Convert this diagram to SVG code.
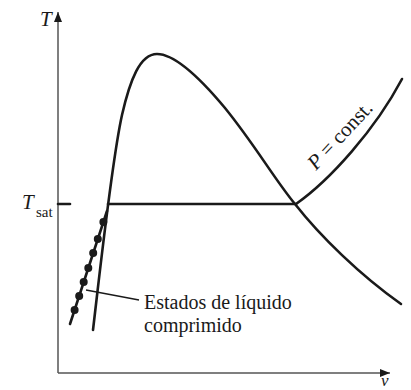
<svg xmlns="http://www.w3.org/2000/svg" width="411" height="390" viewBox="0 0 411 390">
<style>
.axis{stroke:#555;stroke-width:1.5;fill:none}
.curve{stroke:#1a1a1a;stroke-width:2.6;fill:none;stroke-linecap:round}
.thin{stroke:#1a1a1a;stroke-width:1.4;fill:none}
.lbl{font-family:"Liberation Serif","Times New Roman",serif;fill:#1a1a1a}
.dot{fill:#1a1a1a}
</style>
<defs>
<marker id="arr" viewBox="0 0 10 8" refX="10" refY="4" markerWidth="10" markerHeight="8" markerUnits="userSpaceOnUse" orient="auto">
<path d="M0,0 L10,4 L0,8 Z" fill="#1a1a1a"/>
</marker>
</defs>
<rect width="411" height="390" fill="#fff"/>
<g id="axes">
<line class="axis" x1="58" y1="373" x2="58" y2="12" marker-end="url(#arr)"/>
<line class="axis" x1="58" y1="373" x2="390" y2="373" marker-end="url(#arr)"/>
<line class="curve" x1="58" y1="204" x2="70" y2="204" stroke-linecap="butt"/>
<text class="lbl" x="40" y="26" font-size="21" font-style="italic">T</text>
<text class="lbl" x="22" y="209" font-size="21" font-style="italic">T</text>
<text class="lbl" x="36" y="217" font-size="15">sat</text>
<text class="lbl" x="381" y="386" font-size="17" font-style="italic">v</text>
</g>
<g id="dome">
<path class="curve" d="M93,330 C101,262 112,160 122,115 C130,80 140,54 157,54 C175,54 200,78 225,108 C255,145 275,180 295,204 C320,236 360,275 401,304"/>
</g>
<g id="isobar">
<path class="curve" d="M108,204 L296,204"/>
<path class="curve" d="M296,204 C330,180 375,130 402,79"/>
<text class="lbl" font-size="21" transform="translate(316,171) rotate(-47)"><tspan font-style="italic">P</tspan> = const.</text>
</g>
<g id="compressed-liquid">
<line class="curve" x1="70" y1="324" x2="107" y2="211"/>
<circle class="dot" cx="103.4" cy="222" r="4"/>
<circle class="dot" cx="97.8" cy="239" r="4"/>
<circle class="dot" cx="93.2" cy="253" r="4"/>
<circle class="dot" cx="88.3" cy="268" r="4"/>
<circle class="dot" cx="83.7" cy="282" r="4"/>
<circle class="dot" cx="79.2" cy="296" r="4"/>
<circle class="dot" cx="74.6" cy="310" r="4"/>
</g>
<g id="connectors">
<line class="thin" x1="86" y1="290" x2="139" y2="300"/>
</g>
<g id="label">
<text class="lbl" x="144" y="309" font-size="20">Estados de líquido</text>
<text class="lbl" x="144" y="332" font-size="20">comprimido</text>
</g>
</svg>
